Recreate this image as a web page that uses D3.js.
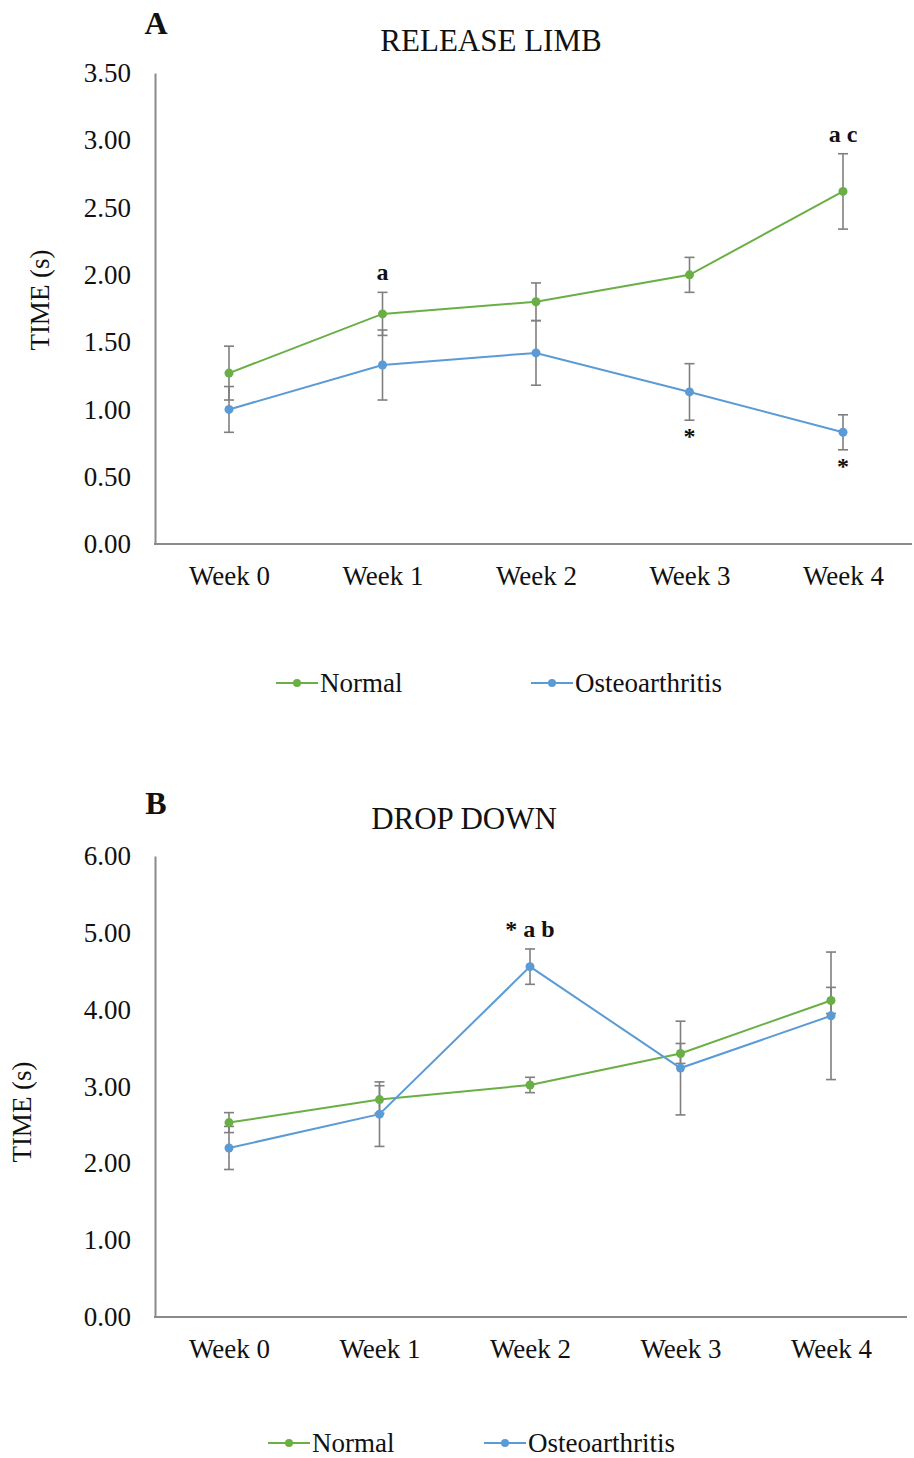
<!DOCTYPE html>
<html>
<head>
<meta charset="utf-8">
<script src="https://cdn.jsdelivr.net/npm/d3@7"></script>
<style>
  body { margin: 0; background: #fff; }
  text { font-family: "Liberation Serif", "Times New Roman", serif; fill: #111; }
</style>
</head>
<body>
<div id="root"></div>
<script>
const width = 914;
const height = 1458;
const serif = '"Liberation Serif", "Times New Roman", serif';

const weeks = ['Week 0', 'Week 1', 'Week 2', 'Week 3', 'Week 4'];
const seriesNames = ['Normal', 'Osteoarthritis'];
const seriesColors = ['#6aaf45', '#5b9bd5'];

// panel A - release limb
const releaseNormal = [1.27, 1.71, 1.80, 2.00, 2.62];
const releaseNormalErr = [0.20, 0.16, 0.14, 0.13, 0.28];
const releaseOA = [1.00, 1.33, 1.42, 1.13, 0.83];
const releaseOAErr = [0.17, 0.26, 0.24, 0.21, 0.13];
const releaseTicks = [0, 0.5, 1, 1.5, 2, 2.5, 3, 3.5];
const releaseNotes = [
	{ series: 0, week: 1, text: 'a', side: 'top' },
	{ series: 0, week: 4, text: 'a c', side: 'top' },
	{ series: 1, week: 3, text: '*', side: 'bottom' },
	{ series: 1, week: 4, text: '*', side: 'bottom' }
];

// panel B - drop down
const dropNormal = [2.53, 2.83, 3.02, 3.43, 4.12];
const dropNormalErr = [0.13, 0.18, 0.10, 0.13, 0.17];
const dropOA = [2.20, 2.64, 4.56, 3.24, 3.92];
const dropOAErr = [0.28, 0.42, 0.23, 0.61, 0.83];
const dropTicks = [0, 1, 2, 3, 4, 5, 6];
const dropNotes = [
	{ series: 1, week: 2, text: '* a b', side: 'top' }
];

const svg = d3.select("#root")
	.append("svg")
		.attr("width", width)
		.attr("height", height);

drawPanel({
	letter: 'A',
	title: 'RELEASE LIMB',
	values: [releaseNormal, releaseOA],
	errors: [releaseNormalErr, releaseOAErr],
	ticks: releaseTicks,
	notes: releaseNotes,
	left: 155, right: 912, top: 73, bottom: 544,
	xFirst: 229, xLast: 843,
	titleX: 491, titleY: 51, letterX: 156, letterY: 34,
	yLabelX: 40, yLabelY: 300,
	legendY: 683, legendX: [297, 552]
});

drawPanel({
	letter: 'B',
	title: 'DROP DOWN',
	values: [dropNormal, dropOA],
	errors: [dropNormalErr, dropOAErr],
	ticks: dropTicks,
	notes: dropNotes,
	left: 155, right: 907, top: 856, bottom: 1317,
	xFirst: 229, xLast: 831,
	titleX: 464, titleY: 829, letterX: 156, letterY: 814,
	yLabelX: 22, yLabelY: 1112,
	legendY: 1443, legendX: [289, 505]
});

function drawPanel(cfg) {
	const g = svg.append("g");

	const x = d3.scalePoint()
		.domain(weeks)
		.range([cfg.xFirst, cfg.xLast]);

	const y = d3.scaleLinear()
		.domain([cfg.ticks[0], cfg.ticks[cfg.ticks.length - 1]])
		.range([cfg.bottom, cfg.top]);

	// y axis, no tick marks like excel
	const yAxis = g.append("g")
		.attr("transform", `translate(${cfg.left},0)`)
		.call(d3.axisLeft(y).tickValues(cfg.ticks).tickSize(0).tickSizeOuter(0).tickPadding(24).tickFormat(d3.format(".2f")))
		.attr("font-family", serif)
		.attr("font-size", 27);
	yAxis.select(".domain").attr("stroke", "#8a8a8a").attr("stroke-width", 2);
	yAxis.selectAll("text")
		.attr("font-family", serif)
		.attr("fill", "#111");

	// x axis
	const xAxis = g.append("g")
		.attr("transform", `translate(0,${cfg.bottom})`)
		.call(d3.axisBottom(x).tickSize(0).tickPadding(22))
		.attr("font-family", serif)
		.attr("font-size", 27);
	xAxis.select(".domain").remove();
	xAxis.selectAll("text")
		.attr("font-family", serif)
		.attr("fill", "#111");
	g.append("line")
		.attr("x1", cfg.left - 1).attr("x2", cfg.right)
		.attr("y1", cfg.bottom).attr("y2", cfg.bottom)
		.attr("stroke", "#8a8a8a")
		.attr("stroke-width", 2);

	// titles
	g.append("text")
		.attr("x", cfg.letterX).attr("y", cfg.letterY)
		.attr("text-anchor", "middle")
		.style("font-size", "32px")
		.style("font-weight", "bold")
		.text(cfg.letter);
	g.append("text")
		.attr("x", cfg.titleX).attr("y", cfg.titleY)
		.attr("text-anchor", "middle")
		.style("font-size", "31px")
		.text(cfg.title);
	g.append("text")
		.attr("transform", `translate(${cfg.yLabelX},${cfg.yLabelY}) rotate(-90)`)
		.attr("text-anchor", "middle")
		.attr("dy", "0.35em")
		.style("font-size", "27px")
		.text("TIME (s)");

	// error bars first, series drawn on top
	cfg.values.forEach((vals, s) => {
		const errs = cfg.errors[s];
		const bars = g.append("g")
			.selectAll(".err")
			.data(vals).enter()
			.append("g")
				.attr("class", "err");
		bars.append("line")
			.attr("x1", (d, i) => x(weeks[i]))
			.attr("x2", (d, i) => x(weeks[i]))
			.attr("y1", (d, i) => y(d + errs[i]))
			.attr("y2", (d, i) => y(d - errs[i]));
		[1, -1].forEach(sign => {
			bars.append("line")
				.attr("x1", (d, i) => x(weeks[i]) - 5)
				.attr("x2", (d, i) => x(weeks[i]) + 5)
				.attr("y1", (d, i) => y(d + sign * errs[i]))
				.attr("y2", (d, i) => y(d + sign * errs[i]));
		});
		bars.selectAll("line")
			.attr("stroke", "#7f7f7f")
			.attr("stroke-width", 1.6);
	});

	cfg.values.forEach((vals, s) => {
		const line = d3.line()
			.x((d, i) => x(weeks[i]))
			.y(d => y(d));
		g.append("path")
			.datum(vals)
			.attr("d", line)
			.attr("fill", "none")
			.attr("stroke", seriesColors[s])
			.attr("stroke-width", 2);
		g.selectAll(`.dot-${s}`)
			.data(vals).enter()
			.append("circle")
				.attr("class", `dot-${s}`)
				.attr("cx", (d, i) => x(weeks[i]))
				.attr("cy", d => y(d))
				.attr("r", 4.5)
				.attr("fill", seriesColors[s]);
	});

	// significance letters
	g.selectAll(".note")
		.data(cfg.notes).enter()
		.append("text")
			.attr("class", "note")
			.attr("x", d => x(weeks[d.week]))
			.attr("y", d => {
				const v = cfg.values[d.series][d.week];
				const e = cfg.errors[d.series][d.week];
				return d.side == 'top' ? y(v + e) - 12 : y(v - e) + 24;
			})
			.attr("text-anchor", "middle")
			.style("font-size", "24px")
			.style("font-weight", "bold")
			.text(d => d.text);

	// legend
	seriesNames.forEach((name, s) => {
		const lx = cfg.legendX[s];
		const lg = g.append("g");
		lg.append("line")
			.attr("x1", lx - 21).attr("x2", lx + 21)
			.attr("y1", cfg.legendY).attr("y2", cfg.legendY)
			.attr("stroke", seriesColors[s])
			.attr("stroke-width", 2);
		lg.append("circle")
			.attr("cx", lx).attr("cy", cfg.legendY)
			.attr("r", 4)
			.attr("fill", seriesColors[s]);
		lg.append("text")
			.attr("x", lx + 23).attr("y", cfg.legendY)
			.attr("dy", "0.35em")
			.style("font-size", "27px")
			.text(name);
	});
}
</script>
</body>
</html>
